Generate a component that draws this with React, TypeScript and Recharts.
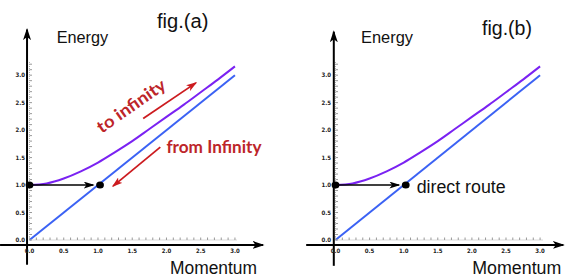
import { ComposedChart, Line, Scatter, XAxis, YAxis, ReferenceLine, ReferenceDot } from "recharts";

// values (momentum p, energy E)
const momentum = [0, 0.25, 0.5, 0.75, 1, 1.25, 1.5, 1.75, 2, 2.25, 2.5, 2.75, 3];
const massiveEnergy = [1.0, 1.03, 1.12, 1.25, 1.41, 1.6, 1.8, 2.02, 2.24, 2.46, 2.69, 2.92, 3.16];
const lightMomentum = [0, 3];
const lightEnergy = [0, 3];
const stateP = [0, 1.03];
const stateE = [1, 1];
const majorTicks = [0, 0.5, 1, 1.5, 2, 2.5, 3];
const minorX = Array.from({ length: 31 }, (_, i) => i / 10);
const minorY = Array.from({ length: 33 }, (_, i) => i / 10);

const massiveCurve = momentum.map((p, i) => ({ p, e: massiveEnergy[i] }));
const lightLine = lightMomentum.map((p, i) => ({ p, e: lightEnergy[i] }));
const states = stateP.map((p, i) => ({ p, e: stateE[i] }));

// arrows and notes, in data units
const hop = [{ x: 0, y: 1 }, { x: 0.93, y: 1 }];
const upArrow = [{ x: 1.66, y: 2.21 }, { x: 2.43, y: 2.86 }];
const downArrow = [{ x: 1.91, y: 1.69 }, { x: 1.22, y: 0.98 }];

const PURPLE = "#7a22f2";
const BLUE = "#3b62f4";
const RED = "#cc1b1f";
const RED_TEXT = "#bd2529";
const FRAME = { stroke: "#b4b4b4", strokeDasharray: "1 1" };
const tickFont = { fontSize: 6, fontWeight: 700, fontFamily: "'Liberation Sans Narrow', 'DejaVu Sans Condensed', sans-serif", fill: "#222" };

const fmt = (v: number) => (majorTicks.some((t) => Math.abs(t - v) < 1e-6) ? v.toFixed(1) : "");

const panels = {
  a: { id: "a", left: 0, width: 285, right: 48, xMax: 3.03, hAxis: [-0.43, 3.41], vAxisX: -0.036, vAxis: [-0.45, 3.83] },
  b: { id: "b", left: 305.5, width: 264, right: 26.5, xMax: 3.05, hAxis: [-0.43, 3.34], vAxisX: -0.025, vAxis: [-0.47, 3.79] },
};

const arrowShape = (color: string, w: number, marker: string) => (props: any) => (
  <line x1={props.x1} y1={props.y1} x2={props.x2} y2={props.y2} stroke={color} strokeWidth={w} markerEnd={`url(#${marker})`} />
);

const stateDot = (props: any) => <ellipse cx={props.cx} cy={props.cy} rx={3.9} ry={3.5} fill="#000" />;

function Marker({ id, color, len, wid }: { id: string; color: string; len: number; wid: number }) {
  return (
    <marker id={id} markerUnits="userSpaceOnUse" markerWidth={len + 1} markerHeight={wid} refX={len - 1.5} refY={wid / 2} orient="auto">
      <path d={`M0,0 L${len},${wid / 2} L0,${wid} L${len * 0.25},${wid / 2} Z`} fill={color} />
    </marker>
  );
}

function Panel({ cfg, annotated }: { cfg: typeof panels.a; annotated: boolean }) {
  const ax = { xAxisId: "x", yAxisId: "y" };
  return (
    <div style={{ position: "absolute", left: cfg.left, top: 0 }}>
      <ComposedChart width={cfg.width} height={276} margin={{ top: 62, right: cfg.right, bottom: 16, left: 0 }}>
        <defs>
          <Marker id={`${cfg.id}-axis`} color="#000" len={12} wid={8} />
          <Marker id={`${cfg.id}-hop`} color="#000" len={11} wid={7} />
          <Marker id={`${cfg.id}-red`} color={RED} len={11} wid={7} />
        </defs>
        <XAxis xAxisId="x" dataKey="p" type="number" domain={[0, cfg.xMax]} ticks={minorX} interval={0}
          tickFormatter={fmt} tickSize={-2.5} tickMargin={11} height={20} axisLine={FRAME}
          tickLine={{ stroke: "#999" }} tick={tickFont} />
        <XAxis xAxisId="top" orientation="top" type="number" domain={[0, cfg.xMax]} ticks={minorX} interval={0}
          tick={false} tickSize={-2.5} height={0} axisLine={FRAME} tickLine={{ stroke: "#999" }} />
        <YAxis yAxisId="y" type="number" domain={[0, 3.24]} ticks={minorY} interval={0}
          tickFormatter={fmt} tickSize={-2.5} tickMargin={7} width={29.5} axisLine={FRAME}
          tickLine={{ stroke: "#999" }} tick={tickFont} />
        <YAxis yAxisId="right" orientation="right" type="number" domain={[0, 3.24]} ticks={minorY} interval={0}
          tick={false} tickSize={-2.5} width={0} axisLine={FRAME} tickLine={{ stroke: "#999" }} />

        <Line {...ax} data={massiveCurve} dataKey="e" type="monotone" stroke={PURPLE} strokeWidth={2} dot={false} isAnimationActive={false} />
        <Line {...ax} data={lightLine} dataKey="e" type="linear" stroke={BLUE} strokeWidth={2} dot={false} isAnimationActive={false} />

        <ReferenceLine {...ax} ifOverflow="visible"
          segment={[{ x: cfg.hAxis[0], y: -0.09 }, { x: cfg.hAxis[1], y: -0.09 }]}
          shape={arrowShape("#000", 2, `${cfg.id}-axis`)} />
        <ReferenceLine {...ax} ifOverflow="visible"
          segment={[{ x: cfg.vAxisX, y: cfg.vAxis[0] }, { x: cfg.vAxisX, y: cfg.vAxis[1] }]}
          shape={arrowShape("#000", 2, `${cfg.id}-axis`)} />
        <ReferenceLine {...ax} ifOverflow="visible" segment={hop} shape={arrowShape("#000", 1.6, `${cfg.id}-hop`)} />

        {annotated && (
          <ReferenceLine {...ax} ifOverflow="visible" segment={upArrow} shape={arrowShape(RED, 1.8, `${cfg.id}-red`)} />
        )}
        {annotated && (
          <ReferenceLine {...ax} ifOverflow="visible" segment={downArrow} shape={arrowShape(RED, 1.8, `${cfg.id}-red`)} />
        )}
        {annotated && (
          <ReferenceDot {...ax} x={1.48} y={2.45} r={0} ifOverflow="visible"
            shape={(p: any) => (
              <text x={p.cx} y={p.cy} textAnchor="middle" dominantBaseline="central" transform={`rotate(-35 ${p.cx} ${p.cy})`}
                fill={RED_TEXT} fontSize={17} fontWeight={700} fontFamily="Lato, 'Open Sans', sans-serif"
                textLength={80} lengthAdjust="spacingAndGlyphs">to infinity</text>
            )} />
        )}
        {annotated && (
          <ReferenceDot {...ax} x={2.0} y={1.59} r={0} ifOverflow="visible"
            shape={(p: any) => (
              <text x={p.cx} y={p.cy} fill={RED_TEXT} fontSize={16.5} fontWeight={700} fontFamily="Lato, 'Open Sans', sans-serif"
                textLength={95} lengthAdjust="spacingAndGlyphs">from Infinity</text>
            )} />
        )}
        {!annotated && (
          <ReferenceDot {...ax} x={1.19} y={0.86} r={0} ifOverflow="visible"
            shape={(p: any) => (
              <text x={p.cx} y={p.cy} fill="#111" fontSize={17.5} fontFamily="'Liberation Sans', Arial, sans-serif"
                textLength={89} lengthAdjust="spacingAndGlyphs">direct route</text>
            )} />
        )}

        <Scatter {...ax} data={states} dataKey="e" shape={stateDot} isAnimationActive={false} />
      </ComposedChart>
    </div>
  );
}

const titleFont = "'Liberation Sans', Arial, sans-serif";

export default function App() {
  return (
    <div style={{ position: "absolute", left: 0, top: 0, width: 570, height: 276, overflow: "hidden", background: "#fff" }}>
      <Panel cfg={panels.a} annotated={true} />
      <Panel cfg={panels.b} annotated={false} />
      <svg width={570} height={276} style={{ position: "absolute", left: 0, top: 0, pointerEvents: "none" }}>
        <g fontFamily={titleFont} fill="#111">
          <text x={157} y={28.3} fontSize={19.5} textLength={51.5} lengthAdjust="spacingAndGlyphs">fig.(a)</text>
          <text x={56.7} y={43.3} fontSize={16} textLength={51.5} lengthAdjust="spacingAndGlyphs">Energy</text>
          <text x={170} y={273.5} fontSize={17.5} textLength={87} lengthAdjust="spacingAndGlyphs">Momentum</text>
          <text x={482} y={35} fontSize={19.5} textLength={50} lengthAdjust="spacingAndGlyphs">fig.(b)</text>
          <text x={361} y={43.3} fontSize={16} textLength={52} lengthAdjust="spacingAndGlyphs">Energy</text>
          <text x={472.3} y={273.5} fontSize={17.5} textLength={89} lengthAdjust="spacingAndGlyphs">Momentum</text>
        </g>
      </svg>
    </div>
  );
}
